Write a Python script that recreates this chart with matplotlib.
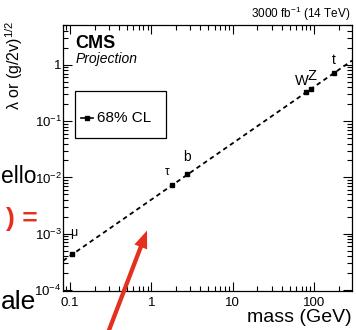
import matplotlib
matplotlib.use("Agg")
import matplotlib.pyplot as plt
from matplotlib.patches import Rectangle, FancyArrowPatch
from matplotlib.ticker import FixedLocator, LogLocator, NullFormatter

plt.rcParams['font.family'] = ['Liberation Sans', 'DejaVu Sans']
plt.rcParams['mathtext.fontset'] = 'custom'
plt.rcParams['mathtext.rm'] = 'Liberation Sans'
plt.rcParams['mathtext.it'] = 'Liberation Sans:italic'

# particles (mass in GeV, coupling modifier)
particles = ['μ', 'τ', 'b', 'W', 'Z', 't']
mass = [0.1057, 1.777, 2.76, 80.4, 91.2, 173.0]
coupling = [4.35e-4, 7.3e-3, 1.13e-2, 0.327, 0.371, 0.72]
label_offset_px = [(2, 21), (-5, 13), (0, 17), (-5, 11), (1, 13), (0, 13)]
label_size = [9, 8.5, 10, 10.5, 10.5, 10]

# dashed SM expectation line
fit_mass = [0.082, 292]
fit_coupling = [3.3e-4, 1.19]

xtick_vals = [0.1, 1, 10, 100]
xtick_labels = ['0.1', '1', '10', '100']
ytick_vals = [1e-4, 1e-3, 1e-2, 1e-1, 1]
ytick_labels = ['$10^{-4}$', '$10^{-3}$', '$10^{-2}$', '$10^{-1}$', '1']

W, H = 356, 330
fig = plt.figure(figsize=(W / 100, H / 100), dpi=100)
fig.patch.set_facecolor('white')
ax = fig.add_axes([63 / W, 1 - 291 / H, 289 / W, 266 / H])

ax.plot(fit_mass, fit_coupling, color='black', lw=1.3, ls=(0, (2.5, 2)))
ax.plot(mass, coupling, ls='none', marker='s', ms=2.6, color='black')
for name, m, c, off, fs in zip(particles, mass, coupling, label_offset_px, label_size):
    ax.annotate(name, (m, c), xytext=(off[0] * 0.72, off[1] * 0.72), textcoords='offset points',
                ha='center', va='center', fontsize=fs)

ax.set_xscale('log')
ax.set_yscale('log')
ax.set_xlim(0.082, 292)
ax.set_ylim(0.96e-4, 5.1)

ax.xaxis.set_major_locator(FixedLocator(xtick_vals))
ax.set_xticklabels(xtick_labels)
ax.yaxis.set_major_locator(FixedLocator(ytick_vals))
ax.set_yticklabels(ytick_labels)
ax.xaxis.set_minor_locator(LogLocator(base=10, subs=range(2, 10), numticks=20))
ax.yaxis.set_minor_locator(LogLocator(base=10, subs=range(2, 10), numticks=20))
ax.xaxis.set_minor_formatter(NullFormatter())
ax.yaxis.set_minor_formatter(NullFormatter())
ax.tick_params(which='both', direction='in', top=True, right=True, width=0.8)
ax.tick_params(which='major', length=6.5, labelsize=9.5)
ax.tick_params(which='minor', length=3.3)
ax.tick_params(axis='y', which='major', pad=1)
ax.tick_params(axis='x', which='major', pad=4)
for s in ax.spines.values():
    s.set_linewidth(0.9)

# CMS labels
ax.text(0.042, 0.913, 'CMS', transform=ax.transAxes, fontsize=13, fontweight='bold', va='baseline')
ax.text(0.042, 0.857, 'Projection', transform=ax.transAxes, fontsize=10, style='italic', va='baseline')
fig.text(350 / W, 1 - 18 / H, '3000 fb$^{-1}$ (14 TeV)', ha='right', va='baseline', fontsize=8.5)

# legend box
ax.add_patch(Rectangle((0.042, 0.575), 0.314, 0.177, transform=ax.transAxes,
                       fill=False, edgecolor='black', lw=0.9))
ax.plot([0.062, 0.104], [0.650, 0.650], transform=ax.transAxes, color='black', lw=1.2)
ax.plot([0.083], [0.650], transform=ax.transAxes, marker='s', ms=3, color='black')
ax.text(0.118, 0.650, '68% CL', transform=ax.transAxes, fontsize=11, va='center')

# axis titles
fig.text(14 / W, 1 - 21 / H, 'λ or (g/2v)$^{1/2}$', rotation=90, ha='center', va='top', fontsize=11.5)
fig.text(352 / W, 1 - 318 / H, 'mass (GeV)', ha='right', va='center', fontsize=14)

# slide overlay bits around the figure
red = '#e5301f'
fig.text(1 / W, 1 - 183 / H, 'ello', ha='left', va='baseline', fontsize=16.5)
fig.text(38 / W, 1 - 226 / H, ') =', ha='right', va='baseline', fontsize=19, color=red, fontweight='bold')
fig.text(36 / W, 1 - 309 / H, 'ale', ha='right', va='baseline', fontsize=19)
arrow = FancyArrowPatch((106 / W, -8 / H), (148 / W, 1 - 228 / H), transform=fig.transFigure,
                        arrowstyle='simple,head_length=0.9,head_width=0.7,tail_width=0.22',
                        mutation_scale=14, color=red, lw=0)
fig.patches.append(arrow)

fig.savefig('out.png', dpi=100, facecolor='white')
